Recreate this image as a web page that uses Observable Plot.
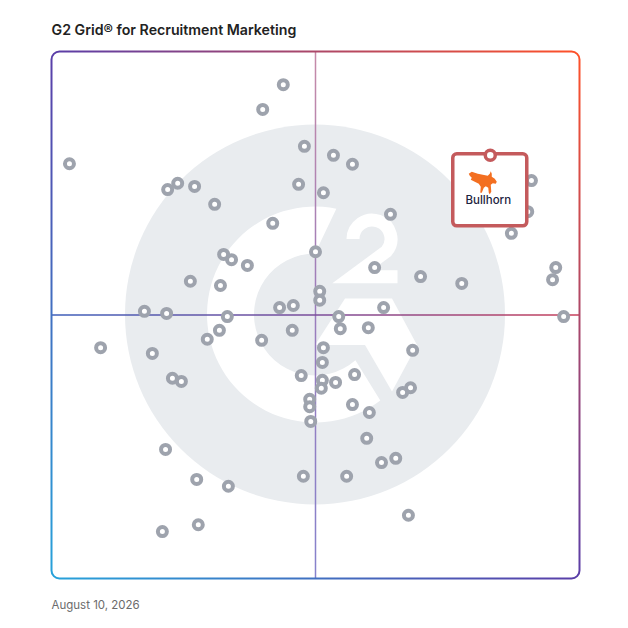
<!DOCTYPE html>
<html><head><meta charset="utf-8">
<script src="https://cdn.jsdelivr.net/npm/d3@7"></script>
<script src="https://cdn.jsdelivr.net/npm/@observablehq/plot@0.6"></script>
<style>html,body{margin:0;padding:0;background:#fff;}</style>
</head><body><div id="chart"></div>
<script>
const titleText = ["G2 Grid® for Recruitment Marketing"];
const dateText = ["August 10, 2026"];

// Satisfaction (x) and Market Presence (y), 0–100 grid scale
const satisfaction = [43.9,40.0,47.9,3.4,53.4,57.0,22.0,23.9,27.1,46.8,51.5,30.9,64.2,41.9,50.0,32.6,34.1,37.1,61.2,69.9,77.7,26.3,32.0,50.8,50.8,43.2,45.8,17.6,21.8,33.3,54.4,62.9,90.9,90.2,87.1,95.5,94.9,97.0,54.7,60.0,45.6,31.8,29.5,39.8,9.3,19.1,51.5,68.4,51.3,47.3,57.4,22.9,24.6,51.3,53.8,51.1,68.0,66.5,48.9,48.9,57.0,60.2,49.1,59.7,21.6,62.5,65.2,55.9,47.7,27.5,33.5,67.6,27.8,21.0];
const marketPresence = [93.7,89.0,82.0,78.7,80.3,78.6,73.8,75.0,74.4,74.8,73.2,71.0,69.1,67.4,62.0,61.5,60.5,59.4,59.0,57.3,56.0,56.4,55.6,54.5,52.8,51.4,51.8,50.7,50.3,49.7,49.7,51.4,75.5,69.6,65.5,59.0,56.7,49.7,47.4,47.6,47.1,47.1,45.4,45.2,43.8,42.7,43.8,43.3,41.0,38.5,38.7,38.0,37.4,37.6,37.2,36.1,36.2,35.3,34.0,32.6,33.0,31.5,29.8,26.6,24.5,22.0,22.8,19.4,19.4,18.8,17.5,12.0,10.2,8.9];

const highlightName = ["Bullhorn"];
const highlightSatisfaction = [83.1];
const highlightPresence = [80.3];
const midpoint = [50];

const points = satisfaction.map((x, i) => ({x, y: marketPresence[i]}));
const highlight = highlightName.map((name, i) => ({name, x: highlightSatisfaction[i], y: highlightPresence[i]}));

const NS = "http://www.w3.org/2000/svg";
function el(tag, attrs, parent) {
  const e = document.createElementNS(NS, tag);
  for (const k in attrs) e.setAttribute(k, attrs[k]);
  if (parent) parent.appendChild(e);
  return e;
}
function gradient(defs, id, attrs, stops) {
  const g = el("linearGradient", Object.assign({id}, attrs), defs);
  for (const [o, c] of stops) el("stop", {offset: o, "stop-color": c}, g);
}

// Background: gradient definitions and the faint G2 logo
function background(index, {x, y}) {
  const g = el("g", {});
  const defs = el("defs", {}, g);
  gradient(defs, "frameGrad", {x1: 0, y1: 1, x2: 1, y2: 0},
    [[0, "#27a2da"], [0.5, "#5a3ea8"], [1, "#ff5128"]]);
  gradient(defs, "vGrad", {gradientUnits: "userSpaceOnUse", x1: 0, y1: y(100), x2: 0, y2: y(0)},
    [[0, "#c68aa8"], [0.5, "#9a7cbc"], [1, "#8682cc"]]);
  gradient(defs, "hGrad", {gradientUnits: "userSpaceOnUse", x1: x(0), y1: 0, x2: x(100), y2: 0},
    [[0, "#3d5fba"], [0.5, "#7a4c9a"], [1, "#c7405a"]]);
  const cx = x(midpoint[0]), cy = y(midpoint[0]);
  const logo = el("g", {transform: `translate(${cx},${cy})`}, g);
  el("circle", {r: 190, fill: "#e9ecef"}, logo);
  const rad = (a) => a * Math.PI / 180;
  const P = (r, a) => `${(r * Math.cos(rad(a))).toFixed(2)},${(r * Math.sin(rad(a))).toFixed(2)}`;
  const ro = 108, ri = 61;
  el("path", {
    d: `M${P(ro, -78.6)} A${ro},${ro} 0 1 0 ${P(ro, 52.8)} L${P(ri, 48.5)} A${ri},${ri} 0 1 1 ${P(ri, -90)} Z`,
    fill: "#fff"
  }, logo);
  el("path", {d: "M30,-16 L77,-16 L102,30.5 L77,77 L50,30.5 L0,30.5 Z", fill: "#fff"}, logo);
  el("path", {
    d: "M38,-75.5 A19,19 0 1 1 71.6,-63.3 L37,-37.7 L82.5,-37.7",
    fill: "none", stroke: "#fff", "stroke-width": 13, "stroke-linejoin": "miter"
  }, logo);
  return g;
}

// Vendor callout box with logo
function callout(index, {x, y}) {
  const g = el("g", {});
  for (const d of highlight) {
    const cx = x(d.x), cy = y(d.y);
    el("rect", {x: cx - 37, y: cy - 1, width: 74, height: 72, rx: 4, fill: "#fff",
      stroke: "#c45a5c", "stroke-width": 3.5}, g);
    el("path", {
      transform: `translate(${cx - 21},${cy + 16})`,
      d: "M0,3 L3,1 L6,2 L9,3 L14,4 L19,5 L21,3 L22,0.5 L23,3 L23,6 L26,8 L28,11 L27,13 L24,12.5 L22,14 L22.5,21 L21,23.5 L20,22 L19.5,17 L17,15.5 L15,17 L13,22 L11.5,22 L12,16 L10,13 L6,11 L2,9 L3,7 L1,5 Z",
      fill: "#f36f21"
    }, g);
  }
  return g;
}

const chart = Plot.plot({
  width: 628,
  height: 628,
  marginLeft: 51,
  marginRight: 49,
  marginTop: 51,
  marginBottom: 50,
  x: {domain: [0, 100], axis: null},
  y: {domain: [0, 100], axis: null},
  style: {background: "#fff", fontFamily: "Inter, sans-serif"},
  marks: [
    background,
    Plot.ruleX(midpoint, {x: d => d, stroke: "url(#vGrad)", strokeWidth: 1.5}),
    Plot.ruleY(midpoint, {y: d => d, stroke: "url(#hGrad)", strokeWidth: 1.5}),
    Plot.frame({rx: 8, stroke: "url(#frameGrad)", strokeWidth: 2}),
    Plot.dot(points, {x: "x", y: "y", r: 4.5, stroke: "#9ea3ad", strokeWidth: 4, fill: "#fff"}),
    callout,
    Plot.dot(highlight, {x: "x", y: "y", r: 5, stroke: "#c45a5c", strokeWidth: 3.5, fill: "#fff"}),
    Plot.text(highlight, {x: "x", y: "y", text: "name", dx: -2, dy: 49, fontSize: 11.5, fontWeight: 500,
      fill: "#1c2340", lineAnchor: "bottom"}),
    Plot.text(titleText, {frameAnchor: "top-left", dy: -17, lineAnchor: "bottom", textAnchor: "start",
      fontSize: 14.2, fontWeight: 600, fill: "#222"}),
    Plot.text(dateText, {frameAnchor: "bottom-left", dy: 30, lineAnchor: "bottom", textAnchor: "start",
      fontSize: 11.5, fill: "#6b6b6b"})
  ]
});
document.getElementById("chart").appendChild(chart);
</script>
</body></html>
